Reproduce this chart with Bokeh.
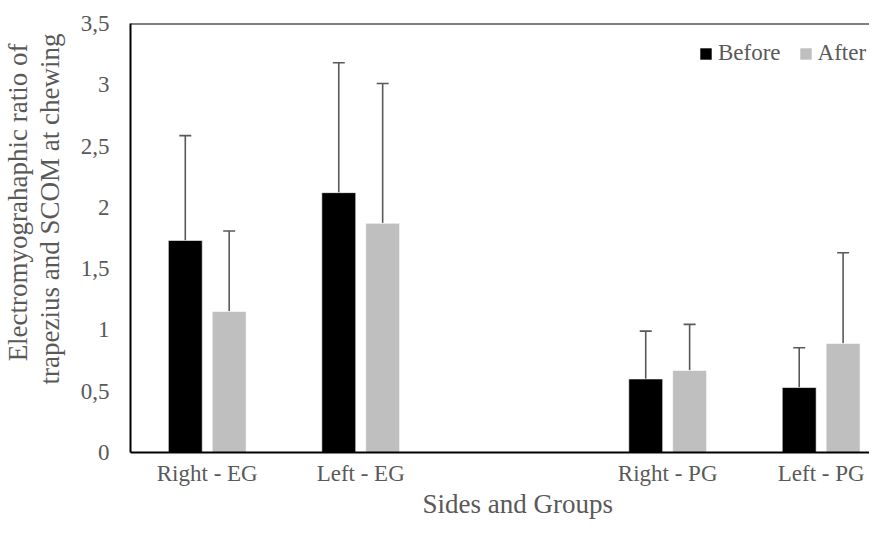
import math
from bokeh.plotting import figure
from bokeh.models import (ColumnDataSource, FixedTicker, Whisker, TeeHead, Span,
                          Legend, LegendItem, Title, Range1d)
from bokeh.embed import file_html
from bokeh.resources import INLINE

# ---- data ----
categories = ["Right - EG", "Left - EG", "Right - PG", "Left - PG"]
groups = ["EG", "EG", "PG", "PG"]
before = [1.73, 2.12, 0.60, 0.53]
after = [1.15, 1.87, 0.67, 0.89]
before_sd = [0.855, 1.06, 0.39, 0.325]
after_sd = [0.657, 1.14, 0.375, 0.74]
y_ticks = [0, 0.5, 1, 1.5, 2, 2.5, 3, 3.5]
y_tick_labels = ["0", "0,5", "1", "1,5", "2", "2,5", "3", "3,5"]
series_names = ["Before", "After"]
series_colors = ["#000000", "#bfbfbf"]
y_title_lines = ["Electromyograhaphic ratio of", "trapezius and SCOM at chewing"]
x_title = "Sides and Groups"

# slot positions: an empty slot separates the EG and PG groups
slots = []
gap = 0
for i, g in enumerate(groups):
    if i > 0 and g != groups[i - 1]:
        gap += 1
    slots.append(i + gap)

FONT = "Liberation Serif"
TXT = "#595959"
off = 0.143
bw = 0.221

p = figure(width=869, height=520, output_backend="svg", toolbar_location=None,
           x_range=Range1d(-0.5, 4.315), y_range=Range1d(0, 3.5),
           min_border_left=129, min_border_right=0, min_border_top=23,
           min_border_bottom=68)
p.outline_line_color = None
p.xgrid.grid_line_color = None
p.ygrid.grid_line_color = None

src_b = ColumnDataSource(dict(x=[s - off for s in slots], top=before,
                              upper=[v + e for v, e in zip(before, before_sd)]))
src_a = ColumnDataSource(dict(x=[s + off for s in slots], top=after,
                              upper=[v + e for v, e in zip(after, after_sd)]))

rb = p.vbar(x="x", top="top", width=bw, source=src_b, fill_color=series_colors[0],
            line_color="white", line_width=0.6)
ra = p.vbar(x="x", top="top", width=bw, source=src_a, fill_color=series_colors[1],
            line_color="white", line_width=0.6)

for src in (src_b, src_a):
    w = Whisker(base="x", lower="top", upper="upper", source=src, dimension="height",
                line_color="#595959", line_width=1.6,
                upper_head=TeeHead(size=12, line_color="#595959", line_width=1.6),
                lower_head=None)
    p.add_layout(w)

# axes
p.xaxis.ticker = FixedTicker(ticks=slots)
p.xaxis.major_label_overrides = {s: c for s, c in zip(slots, categories)}
p.yaxis.ticker = FixedTicker(ticks=y_ticks)
p.yaxis.major_label_overrides = {t: l for t, l in zip(y_ticks, y_tick_labels)}
for ax in (p.xaxis[0], p.yaxis[0]):
    ax.axis_line_color = "black"
    ax.axis_line_width = 2
    ax.major_tick_line_color = None
    ax.minor_tick_line_color = None
    ax.major_tick_out = 0
    ax.major_tick_in = 0
    ax.major_label_text_font = FONT
    ax.major_label_text_font_size = "23px"
    ax.major_label_text_color = TXT
p.xaxis.major_label_standoff = 8
p.yaxis.major_label_standoff = 21
# small blank spacer between the y tick labels and the axis title
p.yaxis.axis_label = "\u2002"
p.yaxis.axis_label_text_font_size = "1px"
p.yaxis.axis_label_standoff = 9

p.add_layout(Span(location=3.5, dimension="width", line_color="black", line_width=2))

# axis titles
tA = Title(text=y_title_lines[1], align="right", offset=10, vertical_align="bottom",
           standoff=0, text_font=FONT, text_font_size="27px", text_color=TXT,
           text_font_style="normal")
tB = Title(text=y_title_lines[0], align="right", offset=20, vertical_align="bottom",
           standoff=0, text_font=FONT, text_font_size="27px", text_color=TXT,
           text_font_style="normal")
p.add_layout(tA, "left")
p.add_layout(tB, "left")
tX = Title(text=x_title, align="left", offset=292, vertical_align="top", standoff=0,
           text_font=FONT, text_font_size="27px", text_color=TXT,
           text_font_style="normal")
p.add_layout(tX, "below")

legend = Legend(items=[LegendItem(label=series_names[0], renderers=[rb]),
                       LegendItem(label=series_names[1], renderers=[ra])],
                orientation="horizontal", location=(568, 386),
                glyph_width=15, glyph_height=15, label_standoff=5, spacing=17,
                padding=0, margin=0, border_line_color=None, background_fill_alpha=0,
                label_text_font=FONT, label_text_font_size="23px", label_text_color=TXT)
p.add_layout(legend)

open("out.html", "w").write(file_html(p, INLINE))
